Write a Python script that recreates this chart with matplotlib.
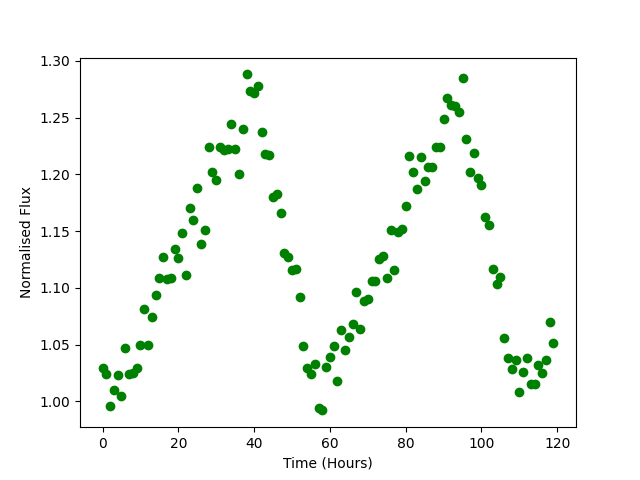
import matplotlib
matplotlib.use("Agg")
import matplotlib.pyplot as plt

# time in hours, one sample per hour
hours = [
    0, 1, 2, 3, 4, 5, 6, 7, 8, 9,
    10, 11, 12, 13, 14, 15, 16, 17, 18, 19,
    20, 21, 22, 23, 24, 25, 26, 27, 28, 29,
    30, 31, 32, 33, 34, 35, 36, 37, 38, 39,
    40, 41, 42, 43, 44, 45, 46, 47, 48, 49,
    50, 51, 52, 53, 54, 55, 56, 57, 58, 59,
    60, 61, 62, 63, 64, 65, 66, 67, 68, 69,
    70, 71, 72, 73, 74, 75, 76, 77, 78, 79,
    80, 81, 82, 83, 84, 85, 86, 87, 88, 89,
    90, 91, 92, 93, 94, 95, 96, 97, 98, 99,
    100, 101, 102, 103, 104, 105, 106, 107, 108, 109,
    110, 111, 112, 113, 114, 115, 116, 117, 118, 119,
]

flux = [
    1.029, 1.024, 0.996, 1.010, 1.023, 1.005, 1.047, 1.024, 1.025, 1.029,
    1.050, 1.081, 1.050, 1.074, 1.094, 1.109, 1.127, 1.108, 1.109, 1.134,
    1.126, 1.148, 1.111, 1.170, 1.160, 1.188, 1.139, 1.151, 1.224, 1.202,
    1.195, 1.224, 1.221, 1.222, 1.244, 1.222, 1.200, 1.240, 1.288, 1.273,
    1.272, 1.278, 1.237, 1.218, 1.217, 1.180, 1.183, 1.166, 1.131, 1.127,
    1.1155, 1.117, 1.0915, 1.0485, 1.029, 1.024, 1.033, 0.994, 0.992, 1.030,
    1.039, 1.0485, 1.018, 1.063, 1.045, 1.057, 1.068, 1.096, 1.064, 1.088,
    1.090, 1.106, 1.106, 1.125, 1.128, 1.109, 1.151, 1.116, 1.149, 1.1515,
    1.172, 1.216, 1.202, 1.187, 1.215, 1.194, 1.206, 1.206, 1.224, 1.224,
    1.2485, 1.267, 1.261, 1.260, 1.2546, 1.2846, 1.2308, 1.2017, 1.2185, 1.1964,
    1.191, 1.1626, 1.155, 1.1164, 1.1037, 1.1097, 1.0556, 1.0385, 1.0288, 1.036,
    1.0085, 1.026, 1.038, 1.015, 1.015, 1.032, 1.0253, 1.036, 1.0703, 1.051,
]

fig, ax = plt.subplots(figsize=(6.4, 4.8), dpi=100)
ax.plot(hours, flux, "o", color="green")
ax.set_xlabel("Time (Hours)")
ax.set_ylabel("Normalised Flux")

fig.savefig("out.png", dpi=100)
